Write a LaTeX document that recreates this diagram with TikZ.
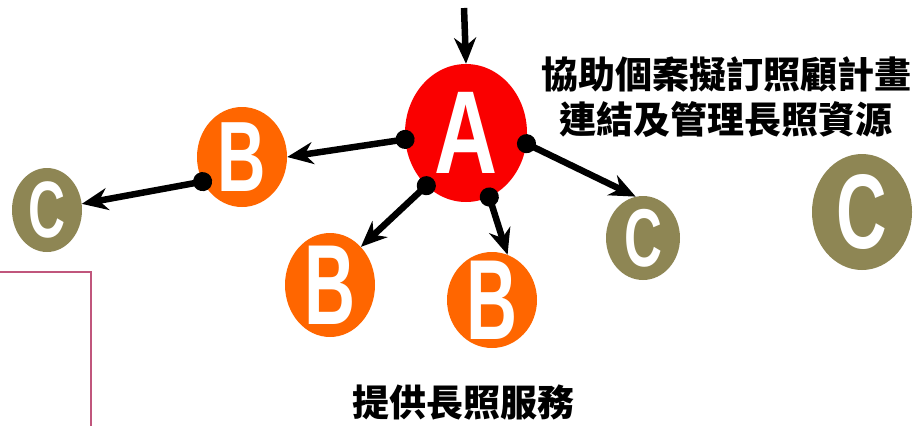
\documentclass[tikz,border=0pt]{standalone}
\usepackage{fontspec}
\setmainfont{Liberation Sans}
\newfontfamily\cjk{Noto Sans CJK TC}
\usetikzlibrary{positioning, arrows.meta, shapes.geometric}
\definecolor{nodered}{RGB}{250,0,0}
\definecolor{nodeorange}{RGB}{255,102,0}
\definecolor{nodeolive}{RGB}{142,134,84}
\definecolor{framepink}{RGB}{192,86,124}

\begin{document}
\begin{tikzpicture}[x=1pt, y=-1pt,
    blob/.style={ellipse, fill=#1, inner sep=0pt},
    letter/.style={text=white, inner sep=0pt, font=\bfseries\fontsize{#1}{#1}\selectfont},
    drop/.style={line width=6.5pt, -{Stealth[length=26pt,width=22pt]}},
    link/.style={drop, {Circle[length=19pt]}-{Stealth[length=26pt,width=22pt]}, shorten <=-9.5pt},
    caption/.style={font=\cjk\bfseries\fontsize{37}{45}\selectfont, align=center, inner sep=0pt}]
    \useasboundingbox (0,0) rectangle (918,426);

    % circles
    \node[blob=nodered, minimum width=122pt, minimum height=138pt] (A) at (466,133) {};
    \node[blob=nodeorange, minimum width=90pt, minimum height=100pt] (B1) at (242,157) {};
    \node[blob=nodeorange, minimum width=90pt, minimum height=104pt] (B2) at (330,285) {};
    \node[blob=nodeorange, minimum width=90pt, minimum height=96pt] (B3) at (492,300) {};
    \node[blob=nodeolive, minimum width=70pt, minimum height=84pt] (C1) at (47,210) {};
    \node[blob=nodeolive, minimum width=74pt, minimum height=84pt] (C2) at (643,238) {};
    \node[blob=nodeolive, minimum width=100pt, minimum height=116pt] (C3) at (862,212) {};

    % letters
    \node[letter=118] (Aname) at (A) {\scalebox{0.74}[1]{A}};
    \node[letter=100] (B1name) at (B1) {\scalebox{0.67}[1]{B}};
    \node[letter=114] (B2name) at (B2) {\scalebox{0.62}[1]{B}};
    \node[letter=114] (B3name) at (B3) {\scalebox{0.62}[1]{B}};
    \node[letter=80] (C1name) at (C1) {\scalebox{0.64}[1]{C}};
    \node[letter=82] (C2name) at (C2) {\scalebox{0.64}[1]{C}};
    \node[letter=106] (C3name) at (C3) {\scalebox{0.66}[1]{C}};

    % captions
    \node[caption] (plan) at (726,97) {協助個案擬訂照顧計畫\\連結及管理長照資源};
    \node[caption] (serve) at (463,403) {提供長照服務};

    % arrows
    \coordinate (entry) at (464,8);
    \draw[drop] (entry) -- (A.north);
    \draw[link] (A.186) -- (B1.east);
    \draw[link] (B1.212) -- (C1.10);
    \draw[link] (A.233) -- (B2.51);
    \draw[link] (A.290) -- (B3.71);
    \draw[link] (A.350) -- (C2.100);

    % frame
    \draw[framepink, line width=2.5pt] (0,272) -- (91,272) -- (91,426);
\end{tikzpicture}
\end{document}
